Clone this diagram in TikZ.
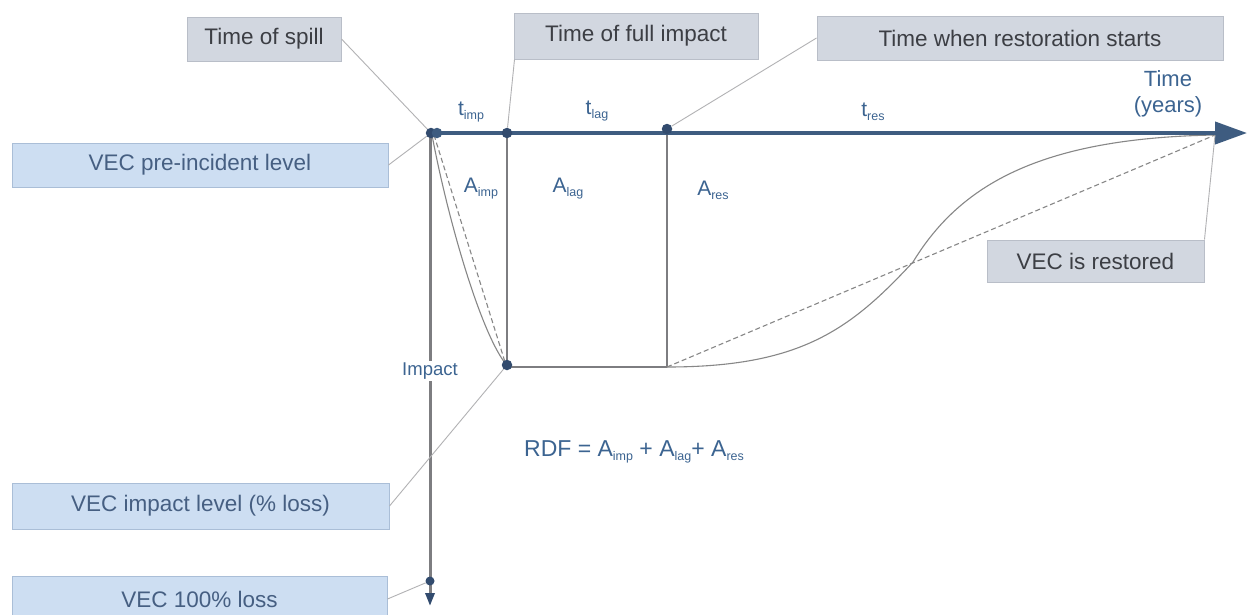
\documentclass[tikz,border=0pt]{standalone}
\usepackage{fontspec}
\setmainfont{Liberation Sans}
\usetikzlibrary{arrows.meta}
\definecolor{axisblue}{RGB}{62,92,128}
\definecolor{dotblue}{RGB}{50,75,110}
\definecolor{lblblue}{RGB}{60,100,145}
\definecolor{graybox}{RGB}{210,215,224}
\definecolor{grayedge}{RGB}{185,190,200}
\definecolor{bluebox}{RGB}{205,222,242}
\definecolor{blueedge}{RGB}{170,190,215}
\definecolor{boxtext}{RGB}{60,62,68}
\definecolor{bluetext}{RGB}{70,95,130}
\definecolor{vgray}{RGB}{125,125,128}
\definecolor{cgray}{RGB}{178,178,180}
\definecolor{curvegray}{RGB}{135,135,135}
\newcommand{\lsub}[1]{\raisebox{-0.35ex}{\fontsize{12.5}{12.5}\selectfont #1}}
\tikzset{
  graybx/.style={draw=grayedge, fill=graybox, line width=1pt, inner sep=0pt, text=boxtext, font=\fontsize{22.5}{25}\selectfont},
  bluebx/.style={draw=blueedge, fill=bluebox, line width=1pt, inner sep=0pt, text=bluetext, font=\fontsize{22.5}{25}\selectfont},
  dotnode/.style={circle, fill=dotblue, inner sep=0pt, minimum size=10.5pt},
  conn/.style={draw=cgray, line width=0.9pt},
  lbl/.style={text=lblblue, font=\fontsize{21}{24}\selectfont, inner sep=0pt},
  curve/.style={draw=curvegray, line width=1.1pt},
  dcurve/.style={draw=curvegray, line width=1.1pt, dash pattern=on 5pt off 3pt},
}
\begin{document}
\begin{tikzpicture}[x=1pt,y=-1pt]
\useasboundingbox (0,0) rectangle (1248,614);
\fill[white] (0,0) rectangle (1248,614);

% coordinates
\coordinate (o) at (431,133);
\coordinate (tip) at (1247,133);
\coordinate (ahead) at (1215,135);
\coordinate (vtip) at (430,606);
\coordinate (r0) at (667,367);

% boxes
\node[graybx, minimum width=154pt, minimum height=44pt] (spill) at (264,39) {Time of spill};
\node[graybx, minimum width=244pt, minimum height=46pt] (fullimp) at (636,36) {Time of full impact};
\node[graybx, minimum width=406pt, minimum height=44pt] (resto) at (1020,38) {Time when restoration starts};
\node[bluebx, minimum width=376pt, minimum height=44pt] (pre) at (200,165) {VEC pre-incident level};
\node[graybx, minimum width=217pt, minimum height=42pt] (restored) at (1095.5,261) {VEC is restored};
\node[bluebx, minimum width=377pt, minimum height=46pt] (implev) at (200.5,506) {VEC impact level (\% loss)};
\node[bluebx, minimum width=375pt, minimum height=46pt] (loss) at (199.5,599) {VEC 100\% loss};

% vertical axis
\draw[vgray, line width=3pt, -{Triangle[length=13pt,width=9pt,color=dotblue]}] (430,134) -- (vtip);
\node[lbl, fill=white, inner sep=2pt, font=\fontsize{18.5}{20}\selectfont] (impact) at (430,371) {Impact};

% verticals and bottom line
\draw[vgray, line width=2pt] (507,133) -- (507,366);
\draw[vgray, line width=2pt] (667,133) -- (r0);
\draw[vgray, line width=1.3pt] (507,367) -- (r0);

% curves
\draw[curve] (432,135) .. controls (448,220) and (480,330) .. (505,363);
\draw[dcurve] (434,135) -- (505,362);
\draw[curve] (r0) .. controls (800,367) and (850,330) .. (913,262) .. controls (960,185) and (1040,138) .. (ahead);
\draw[dcurve] (r0) -- (ahead);

% time axis
\draw[axisblue, line width=4pt, -{Triangle[length=32pt,width=22pt]}] (o) -- (tip);

% dots
\node[dotnode] (d0) at (431,133) {};
\node[dotnode, fill=axisblue] (d0b) at (437,133) {};
\node[dotnode] (d1) at (507,133) {};
\node[dotnode] (d2) at (667,129) {};
\node[dotnode] (dbot) at (507,365) {};
\node[dotnode, minimum size=9pt] (dloss) at (430,581) {};

% connectors
\draw[conn] (spill.east) -- (d0);
\draw[conn] ([xshift=1pt]fullimp.south west) -- (d1);
\draw[conn] (resto.west) -- (d2);
\draw[conn] (pre.east) -- (d0);
\draw[conn] (restored.north east) -- (ahead);
\draw[conn] (implev.east) -- (dbot);
\draw[conn] (loss.east) -- (dloss);

% labels
\node[lbl] (timp) at (471,112) {t\lsub{imp}};
\node[lbl] (tlag) at (597,111) {t\lsub{lag}};
\node[lbl] (tres) at (873,112) {t\lsub{res}};
\node[lbl] (aimp) at (481,189) {A\lsub{imp}};
\node[lbl] (alag) at (568,189) {A\lsub{lag}};
\node[lbl] (ares) at (713,190) {A\lsub{res}};
\node[lbl, align=center, font=\fontsize{22}{26}\selectfont] (timeyr) at (1168,94) {Time\\(years)};
\node[lbl, font=\fontsize{23}{26}\selectfont] (rdf) at (634,452) {RDF = A\lsub{imp} + A\lsub{lag}+ A\lsub{res}};
\end{tikzpicture}
\end{document}
